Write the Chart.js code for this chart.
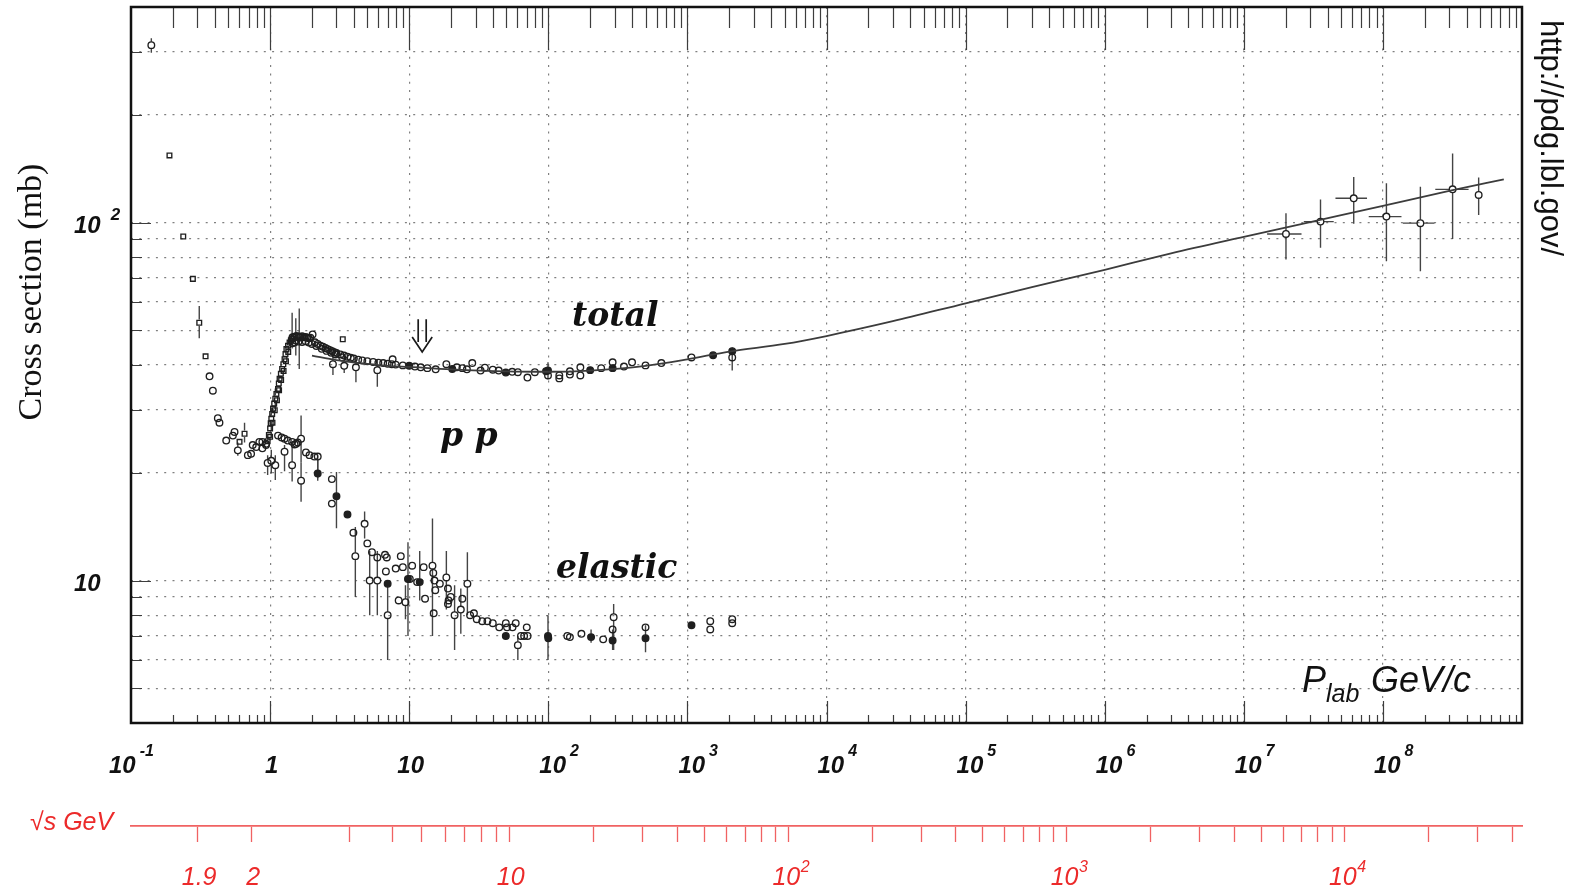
<!DOCTYPE html>
<html>
<head>
<meta charset="utf-8">
<script src="https://cdn.jsdelivr.net/npm/chart.js@4.4.1/dist/chart.umd.min.js"></script>
<style>
  html, body { margin: 0; padding: 0; background: #fff; overflow: hidden; }
  canvas { display: block; }
</style>
</head>
<body>
<canvas id="chart" width="1574" height="889"></canvas>
<script>
// p p cross sections versus beam momentum.
// Each row: [p_lab (GeV/c), sigma (mb), sigma low, sigma high, p low, p high]; error entries optional.

const totalSquares = [
  [0.189, 154], [0.2375, 91.4], [0.2785, 69.6], [0.3095, 52.5, 47.5, 58.5], [0.3436, 42.3],
  [0.603, 24.4], [0.655, 25.7, 24.3, 27.6],
  [0.96, 24.5], [0.98, 25.5], [1.0, 26.6], [1.0, 25.2], [1.01, 27.5], [1.02, 28.3, 26.3, 30.4],
  [1.035, 29.2], [1.04, 27.6], [1.05, 30.2], [1.07, 31.2], [1.08, 29.9], [1.09, 32.2, 30.2, 34.4],
  [1.11, 33.2], [1.12, 31.9], [1.14, 34.3], [1.155, 35.5], [1.16, 34.0], [1.17, 36.6], [1.195, 37.8],
  [1.2, 36.3], [1.22, 39.0], [1.245, 40.2], [1.25, 38.5], [1.27, 41.5], [1.29, 42.9], [1.3, 41.0],
  [1.31, 44.3], [1.345, 45.3], [1.35, 43.5], [1.38, 46.2], [1.41, 46.8], [1.45, 47.3], [3.33, 47.2]
];

const totalOpen = [
  [0.14, 313, 298, 327], [0.367, 37.2], [0.3877, 33.9], [0.421, 28.4], [0.4325, 27.6], [0.4837, 24.6],
  [0.54, 25.4], [0.555, 26.0], [0.586, 23.1, 22.3, 24.3], [0.692, 22.4], [0.73, 22.6], [0.75, 23.9],
  [0.795, 23.6], [0.837, 24.4], [0.88, 24.4], [0.88, 23.4], [0.935, 23.9], [0.935, 24.1],
  [1.45, 47.8], [1.5, 48.0], [1.55, 48.2], [1.6, 48.0], [1.65, 47.9], [1.7, 48.1], [1.75, 47.8],
  [1.8, 47.9], [1.85, 47.7], [1.9, 47.5], [1.95, 47.7], [2.02, 48.7],
  [1.45, 46.0], [1.5, 46.3], [1.6, 46.5], [1.7, 46.4], [1.8, 46.6], [1.9, 46.2], [2.0, 45.8],
  [2.1, 46.3], [2.15, 45.2], [2.2, 45.8], [2.3, 45.3], [2.35, 44.4], [2.4, 45.0], [2.5, 44.6],
  [2.55, 43.8], [2.6, 44.3], [2.7, 44.0], [2.75, 43.3], [2.8, 43.7], [2.9, 43.4], [2.95, 42.8],
  [3.0, 43.2], [3.2, 42.8], [3.3, 42.0], [3.4, 42.5], [3.6, 42.2], [3.8, 41.9], [4.0, 41.7],
  [4.3, 41.4], [4.6, 41.2], [5.0, 41.0], [5.5, 40.8], [6.0, 40.6], [6.5, 40.5], [7.0, 40.3],
  [7.5, 40.2], [7.6, 41.5], [8.0, 40.1], [9.0, 39.9],
  [1.44, 47.3, 44.5, 56.0], [1.53, 46.8, 42.5, 54.0], [1.62, 47.7, 39.0, 57.5],
  [2.83, 40.2, 37.5, 43.0], [3.41, 39.8, 38.0, 42.6], [4.14, 39.4, 35.8, 42.0], [5.9, 38.7, 34.8, 41.5],
  [11, 39.6], [12.1, 39.4], [13.5, 39.2], [15.5, 38.9], [18.5, 40.2], [22, 39.4], [24.1, 39.2],
  [26, 38.9], [28.4, 40.5], [32.6, 38.6], [35, 39.3], [39.9, 38.8], [44, 38.6], [55, 38.3],
  [60.4, 38.2], [70.8, 36.9], [80, 38.2], [99.5, 37.4], [120, 37.4], [120, 36.7], [143, 38.4],
  [143, 37.6], [170, 39.4], [170, 37.4], [240, 39.2], [290, 40.7], [350, 39.6], [400, 40.7],
  [500, 39.9], [650, 40.5], [1070, 42.0], [2100, 42.0]
];

const totalFilled = [
  [10, 39.8, 38.9, 40.8], [20.4, 39.0], [49.5, 38.1], [96.3, 38.4], [99.5, 38.6, 36.5, 40.7],
  [200, 38.7], [290, 39.2], [1530, 42.6], [2100, 43.7, 38.6, 44.8]
];

const totalCosmic = [
  [2.01e7, 92.9, 78.8, 106.2, 1.47e7, 2.60e7],
  [3.56e7, 100.6, 85.0, 116.0, 2.70e7, 4.43e7],
  [6.17e7, 116.9, 99.2, 134.0, 4.56e7, 7.69e7],
  [1.06e8, 103.9, 77.9, 128.7, 7.91e7, 1.36e8],
  [1.86e8, 99.6, 73.1, 125.9, 1.39e8, 2.35e8],
  [3.17e8, 123.8, 89.9, 155.9, 2.38e8, 4.13e8],
  [4.88e8, 119.4, 105.0, 133.7]
];

const elasticOpen = [
  [0.96, 21.3, 19.7, 22.4], [1.02, 21.6, 19.9, 23.2], [1.09, 21.0, 19.1, 22.4], [1.14, 25.4],
  [1.21, 25.1], [1.27, 24.9], [1.27, 22.9, 20.2, 23.9], [1.34, 24.6], [1.44, 24.4],
  [1.44, 21.0, 18.9, 24.4], [1.5, 24.0], [1.54, 24.1], [1.58, 24.3], [1.67, 24.9, 21.4, 28.9],
  [1.67, 19.0, 16.6, 21.4], [1.81, 22.8], [1.92, 22.4], [2.08, 22.2], [2.2, 22.2, 19.3, 22.6],
  [2.78, 19.2], [2.78, 16.4], [3.97, 13.6], [4.1, 11.7, 9.0, 14.1], [4.78, 14.4, 13.1, 15.6],
  [5.0, 12.7], [5.2, 10.0, 8.0, 12.1], [5.4, 12.0], [5.9, 11.6], [5.9, 10.0, 8.0, 12.1],
  [6.7, 11.8], [6.9, 11.6], [6.8, 10.6], [7.0, 8.0, 6.0, 9.6], [8.0, 10.8], [8.4, 8.8],
  [8.7, 11.7], [9.0, 10.9], [9.4, 8.7, 7.8, 9.7], [10.1, 10.1], [10.5, 11.0], [11.4, 9.9],
  [12.7, 10.9], [13.0, 8.9], [14.7, 11.0, 7.0, 14.9], [14.9, 10.5], [15.2, 10.0], [15.4, 9.4],
  [15.0, 8.1], [16.6, 9.8], [18.5, 10.2, 8.3, 12.1], [19.0, 9.5], [19.2, 8.8], [19.0, 8.6],
  [19.9, 9.0], [21.2, 8.0, 6.4, 9.7], [23.5, 8.3, 7.1, 9.5], [24.1, 8.9], [26.2, 9.8, 8.0, 12.0],
  [27.4, 8.0], [29.2, 8.1], [30.6, 7.8], [33.5, 7.7], [36.5, 7.7], [39.9, 7.6], [44.4, 7.4],
  [49.5, 7.6], [50.5, 7.4], [55.3, 7.4], [58.3, 7.6], [60.4, 6.6, 6.0, 7.0], [63.6, 7.0],
  [67, 7.0], [70, 7.4], [71, 7.0], [137, 7.0], [143, 6.95], [173, 7.1], [248, 6.85], [290, 7.3],
  [295, 7.9, 6.4, 8.6], [500, 7.4], [1460, 7.7], [1460, 7.3], [2100, 7.8], [2100, 7.6]
];

const elasticFilled = [
  [2.2, 19.9, 19.0, 22.4], [3.0, 17.2, 14.0, 20.1], [3.6, 15.3], [7.0, 9.8],
  [9.8, 10.1, 7.0, 12.8], [11.9, 9.9, 8.8, 12.1], [49.5, 7.0], [99.5, 7.0, 6.0, 8.0], [100, 6.9],
  [203, 6.95, 6.7, 7.3], [290, 6.8, 6.4, 7.3], [500, 6.9, 6.3, 7.5], [1070, 7.5]
];

// Fitted total cross section
const fitMomentum = [2, 3, 5, 7, 10, 20, 50, 100, 200, 500, 1e3, 2e3, 5e3, 1e4, 3e4, 1e5, 3e5, 1e6, 3e6, 1e7, 3e7, 1e8, 3e8, 7.4e8];
const fitSigma    = [42.5, 41.3, 40.3, 39.8, 39.5, 38.9, 38.4, 38.3, 38.6, 39.8, 41.5, 43.6, 45.8, 48.2, 53.0, 59.5, 66.0, 73.8, 82.0, 91.2, 100.3, 111.3, 122.5, 132.0];

// Axis ticks
const pDecadeExponents = [-1, 0, 1, 2, 3, 4, 5, 6, 7, 8];
const sigmaLabelValues = [10, 100];
const sqrtSTicks = [1.9, 2, 3, 4, 5, 6, 7, 8, 9, 10, 20, 30, 40, 50, 60, 70, 80, 90, 100,
  200, 300, 400, 500, 600, 700, 800, 900, 1000, 2000, 3000, 4000, 5000, 6000, 7000, 8000, 9000,
  10000, 20000, 30000, 40000];
const sqrtSLabels = [[1.9, '1.9', ''], [2, '2', ''], [10, '10', ''], [100, '10', '2'], [1000, '10', '3'], [10000, '10', '4']];

const PROTON_MASS = 0.938272;
// beam momentum giving a given centre-of-mass energy on a fixed proton target
function momentumForSqrtS(w) {
  const e = (w * w - 2 * PROTON_MASS * PROTON_MASS) / (2 * PROTON_MASS);
  return Math.sqrt(e * e - PROTON_MASS * PROTON_MASS);
}

const toPoints = rows => rows.map(r => ({ x: r[0], y: r[1], lo: r[2], hi: r[3], xlo: r[4], xhi: r[5] }));

const INK = '#1f1f1f';
const RED = '#ec2a2a';
const RED_LINE = '#f06262';
const MARKER_R = 3.3;

function markerSet(label, rows, style, filled) {
  return {
    label, data: toPoints(rows), showLine: false,
    pointStyle: style, pointRadius: MARKER_R, pointBorderWidth: 1.35,
    borderColor: INK, pointBorderColor: INK,
    pointBackgroundColor: filled ? INK : 'rgba(0,0,0,0)', backgroundColor: filled ? INK : 'rgba(0,0,0,0)'
  };
}

function drawPower(ctx, x, baseline, base, sup, baseFont, supFont, supBaseline, gap) {
  ctx.font = baseFont;
  ctx.textAlign = 'left';
  ctx.fillText(base, x, baseline);
  const w = ctx.measureText(base).width;
  if (sup) {
    ctx.font = supFont;
    ctx.fillText(sup, x + w + gap, supBaseline);
  }
}

const overlay = {
  id: 'overlay',
  beforeDatasetsDraw(chart) {
    const { ctx, chartArea: a, scales: { x, y } } = chart;
    ctx.save();
    ctx.beginPath();
    ctx.rect(a.left, a.top, a.right - a.left, a.bottom - a.top);
    ctx.clip();
    ctx.strokeStyle = '#444';
    ctx.lineWidth = 1.4;
    const r = MARKER_R;
    chart.data.datasets.forEach(ds => {
      ds.data.forEach(d => {
        if (d.lo == null && d.xlo == null) return;
        const px = x.getPixelForValue(d.x), py = y.getPixelForValue(d.y);
        ctx.beginPath();
        if (d.lo != null) {
          const yl = y.getPixelForValue(d.lo), yh = y.getPixelForValue(d.hi);
          if (yl > py + r) { ctx.moveTo(px, py + r); ctx.lineTo(px, yl); }
          if (yh < py - r) { ctx.moveTo(px, py - r); ctx.lineTo(px, yh); }
        }
        if (d.xlo != null) {
          const xl = x.getPixelForValue(d.xlo), xh = x.getPixelForValue(d.xhi);
          ctx.moveTo(xl, py); ctx.lineTo(px - r, py);
          ctx.moveTo(px + r, py); ctx.lineTo(xh, py);
        }
        ctx.stroke();
      });
    });
    ctx.restore();
  },
  afterDraw(chart) {
    const { ctx, chartArea: a, scales: { x, y, s } } = chart;
    ctx.save();

    // tick marks inside the frame
    ctx.strokeStyle = '#3d3d3d';
    ctx.lineWidth = 1.2;
    ctx.beginPath();
    for (let e = -1; e <= 8; e++) {
      for (let k = 1; k <= 9; k++) {
        const v = k * Math.pow(10, e);
        if (e === -1 && k === 1) continue;
        const px = Math.round(x.getPixelForValue(v)) + 0.5;
        const major = k === 1;
        ctx.moveTo(px, a.top); ctx.lineTo(px, a.top + (major ? 43 : 21));
        ctx.moveTo(px, a.bottom); ctx.lineTo(px, a.bottom - (major ? 22 : 8));
      }
    }
    for (let e = 0; e <= 2; e++) {
      for (let k = 1; k <= 9; k++) {
        const v = k * Math.pow(10, e);
        if (v <= 4 || v >= 400) continue;
        const py = Math.round(y.getPixelForValue(v)) + 0.5;
        ctx.moveTo(a.left, py); ctx.lineTo(a.left + (k === 1 ? 20 : 11), py);
      }
    }
    ctx.stroke();

    // frame
    ctx.strokeStyle = '#111';
    ctx.lineWidth = 2.5;
    ctx.strokeRect(a.left, a.top, a.right - a.left, a.bottom - a.top);

    // momentum labels
    ctx.fillStyle = '#111';
    ctx.textBaseline = 'alphabetic';
    const bFont = 'italic bold 24px "Liberation Sans"';
    const bSup = 'italic bold 16px "Liberation Sans"';
    pDecadeExponents.forEach(e => {
      const gx = x.getPixelForValue(Math.pow(10, e));
      if (e === 0 || e === 1) {
        ctx.font = bFont; ctx.textAlign = 'center';
        ctx.fillText(e === 0 ? '1' : '10', gx + 1.5, 773);
      } else {
        const sup = e < 0 ? '-' + (-e) : String(e);
        drawPower(ctx, gx - 9 - (e < 0 ? 13 : 0), 773, '10', sup, bFont, bSup, 756, 4);
      }
    });

    // cross-section labels
    sigmaLabelValues.forEach(v => {
      const gy = y.getPixelForValue(v);
      drawPower(ctx, 74, gy + 10.5, '10', v === 100 ? '2' : '', bFont, 'italic bold 17px "Liberation Sans"', gy - 2.5, 10);
    });

    // sqrt(s) labels
    ctx.fillStyle = RED;
    sqrtSLabels.forEach(([w, base, sup]) => {
      const gx = s.getPixelForValue(momentumForSqrtS(w));
      if (!sup) {
        ctx.font = 'italic 25px "Liberation Sans"'; ctx.textAlign = 'center';
        ctx.fillText(base, gx + 1.5, 885);
      } else {
        drawPower(ctx, gx - 16, 885, base, sup, 'italic 25px "Liberation Sans"', 'italic 16px "Liberation Sans"', 872, 0.5);
      }
    });
    ctx.font = 'italic 25px "Liberation Sans"'; ctx.textAlign = 'left';
    ctx.fillText('\u221As GeV', 30, 830);

    // axis titles
    ctx.fillStyle = '#111';
    ctx.save();
    ctx.translate(41, 292);
    ctx.rotate(-Math.PI / 2);
    ctx.font = '34px "Liberation Serif"'; ctx.textAlign = 'center';
    ctx.fillText('Cross section (mb)', 0, 0);
    ctx.restore();

    ctx.save();
    ctx.translate(1541, 138);
    ctx.rotate(Math.PI / 2);
    ctx.font = '31px "Liberation Sans"'; ctx.textAlign = 'center';
    ctx.fillText('http://pdg.lbl.gov/', 0, 0);
    ctx.restore();

    ctx.textAlign = 'left';
    ctx.font = 'italic 36px "Liberation Sans"';
    ctx.fillText('P', 1302, 692);
    ctx.font = 'italic 25px "Liberation Sans"';
    ctx.fillText('lab', 1326, 702);
    ctx.font = 'italic 36px "Liberation Sans"';
    ctx.fillText('GeV/c', 1371, 692);

    // curve names
    ctx.font = 'italic bold 33px "DejaVu Serif"';
    ctx.fillText('total', 572, 326);
    ctx.fillText('p p', 440, 446);
    ctx.fillText('elastic', 556, 578);

    // arrow marking the beam momentum of interest
    const ax = x.getPixelForValue(12.4);
    const yTop = y.getPixelForValue(53.7), yTip = y.getPixelForValue(43.5);
    ctx.strokeStyle = '#1a1a1a';
    ctx.lineWidth = 1.7;
    ctx.beginPath();
    ctx.moveTo(ax - 4, yTop); ctx.lineTo(ax - 4, yTip - 10);
    ctx.moveTo(ax + 4, yTop); ctx.lineTo(ax + 4, yTip - 10);
    ctx.moveTo(ax - 10, yTip - 15); ctx.lineTo(ax, yTip); ctx.lineTo(ax + 10, yTip - 15);
    ctx.stroke();

    ctx.restore();
  }
};

const dottedGrid = { color: '#808080', lineWidth: 1.2, drawTicks: false };
const dottedBorder = { display: false, dash: [2, 6.3] };

new Chart(document.getElementById('chart'), {
  type: 'scatter',
  data: {
    datasets: [
      {
        label: 'fit', data: fitMomentum.map((p, i) => ({ x: p, y: fitSigma[i] })),
        showLine: true, pointRadius: 0, borderColor: '#3c3c3c', borderWidth: 1.8,
        cubicInterpolationMode: 'monotone', fill: false
      },
      markerSet('total', totalOpen, 'circle', false),
      markerSet('total filled', totalFilled, 'circle', true),
      markerSet('total squares', totalSquares, 'rect', false),
      markerSet('total cosmic', totalCosmic, 'circle', false),
      markerSet('elastic', elasticOpen, 'circle', false),
      markerSet('elastic filled', elasticFilled, 'circle', true)
    ]
  },
  options: {
    responsive: false,
    devicePixelRatio: 1,
    animation: false,
    events: [],
    layout: { padding: { top: 7, right: 52, left: 0, bottom: 0 } },
    plugins: { legend: { display: false }, tooltip: { enabled: false } },
    scales: {
      x: {
        type: 'logarithmic', position: 'bottom', min: 0.1, max: 1e9, weight: 0,
        afterBuildTicks: sc => { sc.ticks = pDecadeExponents.filter(e => e >= 0).map(e => ({ value: Math.pow(10, e) })); },
        ticks: { display: false },
        grid: dottedGrid, border: dottedBorder,
        afterFit: sc => { sc.height = 103; }
      },
      s: {
        type: 'logarithmic', position: 'bottom', min: 0.1, max: 1e9, weight: 1,
        afterBuildTicks: sc => { sc.ticks = sqrtSTicks.map(w => ({ value: momentumForSqrtS(w) })); },
        ticks: { display: false },
        grid: { drawOnChartArea: false, drawTicks: true, tickLength: 16, color: RED_LINE, tickColor: RED_LINE, tickWidth: 1.3 },
        border: { display: true, color: RED_LINE, width: 1.8 },
        afterFit: sc => { sc.height = 63; }
      },
      y: {
        type: 'logarithmic', position: 'left', min: 4, max: 400,
        afterBuildTicks: sc => {
          const vals = [];
          for (let e = 0; e <= 2; e++) for (let k = 1; k <= 9; k++) {
            const v = k * Math.pow(10, e);
            if (v > 4 && v < 400) vals.push(v);
          }
          sc.ticks = vals.map(v => ({ value: v }));
        },
        ticks: { display: false },
        grid: dottedGrid, border: dottedBorder,
        afterFit: sc => { sc.width = 131; }
      }
    }
  },
  plugins: [overlay]
});
</script>
</body>
</html>
